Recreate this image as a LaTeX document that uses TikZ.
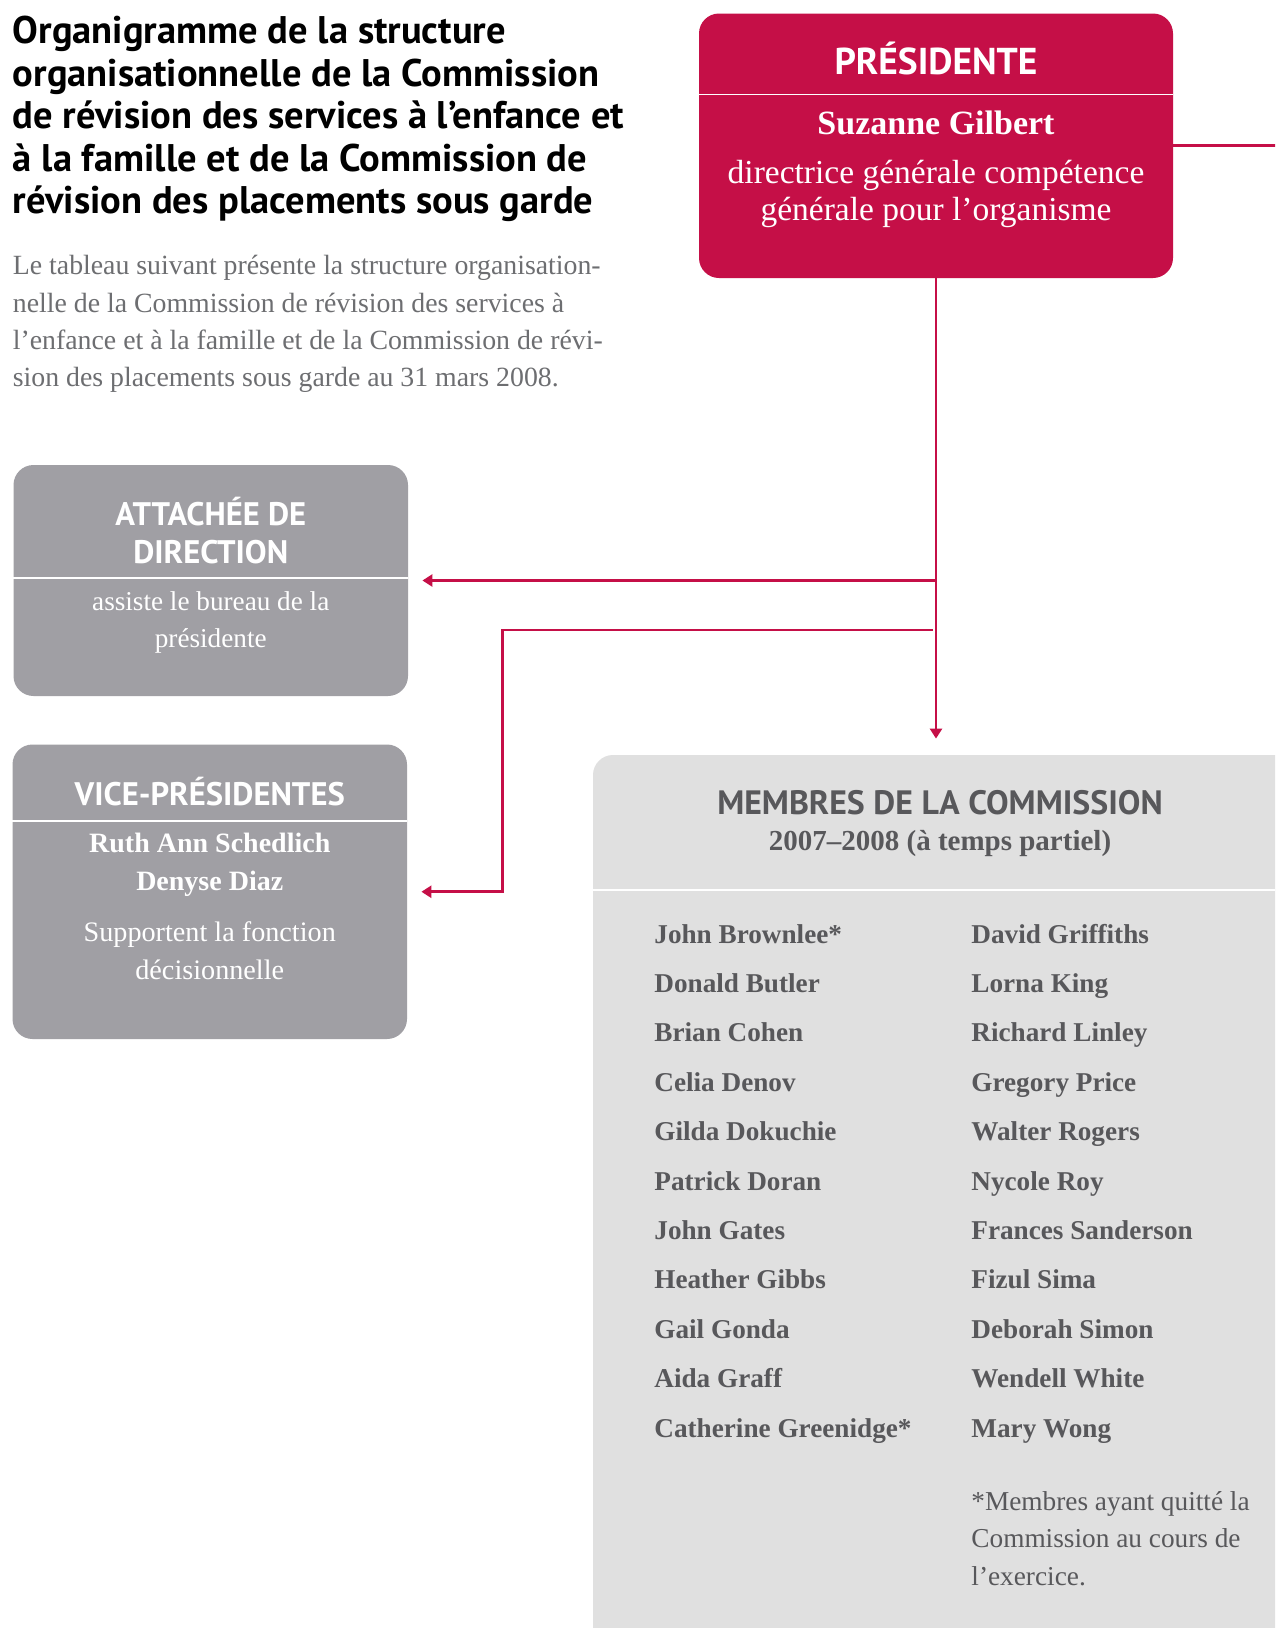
\documentclass[tikz,border=0pt]{standalone}
\usepackage{fontspec}
\setmainfont{Liberation Serif}
\setsansfont{PT Sans}
\usetikzlibrary{positioning, arrows.meta, fit}
\definecolor{presred}{HTML}{C50F47}
\definecolor{boxgray}{HTML}{A09FA4}
\definecolor{palegray}{HTML}{E0E0E0}
\definecolor{inkgray}{HTML}{58585B}
\definecolor{textgray}{HTML}{6D6E71}

\begin{document}
\begin{tikzpicture}[
      x=0.5pt, y=-0.5pt,
      card/.style={rounded corners=10pt, fill=#1, inner sep=0pt},
      sep/.style={draw=white, line width=0.7pt},
      head/.style={font=\sffamily\bfseries\fontsize{16.3}{19}\selectfont, text=white, align=center, inner sep=0pt},
      body/.style={font=\fontsize{13.6}{18.5}\selectfont, text=white, align=center, inner sep=0pt},
      member/.style={font=\bfseries\fontsize{13.6}{15}\selectfont, text=inkgray, anchor=base west, inner sep=0pt},
      link/.style={draw=presred, line width=1.3pt},
      >={Triangle[length=5pt, width=6pt]},
    ]
    \clip (0,0) rectangle (1275,1628);
    \fill[white] (0,0) rectangle (1275,1628);

    % title and intro
    \node[anchor=north west, align=left, inner sep=0pt,
          font=\sffamily\bfseries\fontsize{19.25}{21.25}\selectfont] (title) at (12.5,16)
      {Organigramme de la structure\\
       organisationnelle de la Commission\\
       de révision des services à l'enfance et\\
       à la famille et de la Commission de\\
       révision des placements sous garde};
    \node[anchor=north west, align=left, inner sep=0pt, text=textgray,
          font=\fontsize{13.9}{18.7}\selectfont] (intro) at (12.5,255)
      {Le tableau suivant présente la structure organisation-\\
       nelle de la Commission de révision des services à\\
       l’enfance et à la famille et de la Commission de révi-\\
       sion des placements sous garde au 31 mars 2008.};

    % boxes
    \node[card=presred, fit={(699,13.5) (1173,278)}] (pres) {};
    \node[card=boxgray, fit={(13.5,465) (408,696)}] (att) {};
    \node[card=boxgray, fit={(12.5,744.5) (407,1039)}] (vice) {};
    \node[card=palegray, fit={(593,755) (1310,1670)}] (members) {};

    \draw[sep] (pres.west |- 0,94.5) -- (pres.east |- 0,94.5);
    \draw[sep] (att.west |- 0,578) -- (att.east |- 0,578);
    \draw[sep] (vice.west |- 0,821) -- (vice.east |- 0,821);
    \draw[sep] (members.west |- 0,890) -- (members.east |- 0,890);

    % presidente
    \node[head, font=\sffamily\bfseries\fontsize{18.7}{19}\selectfont] (preshead) at (936,58) {PRÉSIDENTE};
    \node[body, font=\bfseries\fontsize{17}{19}\selectfont] (presname) at (936,123) {Suzanne Gilbert};
    \node[body, font=\fontsize{16.75}{18.7}\selectfont] (presrole) at (936,194)
      {directrice générale compétence\\ générale pour l’organisme};

    % attachee
    \node[head] (atthead) at (210.75,531) {ATTACHÉE DE\\ DIRECTION};
    \node[body] (attrole) at (210.75,622.5) {assiste le bureau de la\\ présidente};

    % vice-presidentes
    \node[head] (vicehead) at (209.75,792) {VICE-PRÉSIDENTES};
    \node[body, font=\bfseries\fontsize{14}{18.75}\selectfont] (vicenames) at (209.75,865)
      {Ruth Ann Schedlich\\ Denyse Diaz};
    \node[body, font=\fontsize{14.1}{19}\selectfont] (vicerole) at (209.75,951)
      {Supportent la fonction\\ décisionnelle};

    % membres
    \node[head, text=inkgray, font=\sffamily\bfseries\fontsize{16.9}{19}\selectfont] (memhead) at (940,802.6)
      {MEMBRES DE LA COMMISSION};
    \node[body, text=inkgray, font=\bfseries\fontsize{14.5}{18}\selectfont] (memyear) at (940,843)
      {2007–2008 (à temps partiel)};
    \foreach \who [count=\i] in {John Brownlee*, Donald Butler, Brian Cohen, Celia Denov,
        Gilda Dokuchie, Patrick Doran, John Gates, Heather Gibbs, Gail Gonda, Aida Graff,
        Catherine Greenidge*}
      \node[member] (left\i) at (654,{943+(\i-1)*49.4}) {\who};
    \foreach \who [count=\i] in {David Griffiths, Lorna King, Richard Linley, Gregory Price,
        Walter Rogers, Nycole Roy, Frances Sanderson, Fizul Sima, Deborah Simon,
        Wendell White, Mary Wong}
      \node[member] (right\i) at (971,{943+(\i-1)*49.4}) {\who};
    \node[anchor=north west, align=left, inner sep=0pt, text=inkgray,
          font=\fontsize{13.65}{18.7}\selectfont] (note) at (971,1491)
      {*Membres ayant quitté la\\ Commission au cours de\\ l’exercice.};

    % connectors
    \coordinate (fork) at (933,630);
    \coordinate (bend) at (502.5,630);
    \draw[link] (pres.east) -- ++(120,0);
    \draw[link, ->, shorten >=8pt] (pres.south) -- (pres.south |- members.north);
    \draw[link, ->, shorten >=7pt] (pres.south |- att.east) -- (att.east);
    \draw[link, ->, shorten >=7pt] (fork) -- (bend) |- (vice.east);
  \end{tikzpicture}
\end{document}
